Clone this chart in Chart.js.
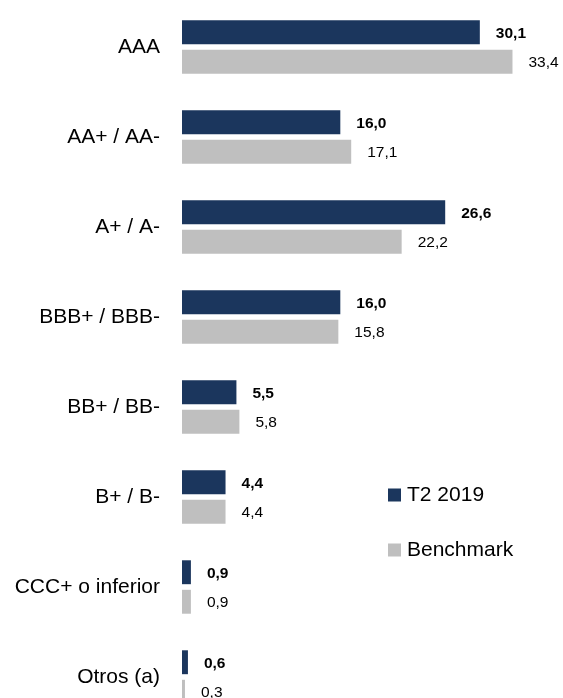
<!DOCTYPE html>
<html><head><meta charset="utf-8">
<script src="https://cdn.jsdelivr.net/npm/chart.js@4"></script>
<style>html,body{margin:0;padding:0;background:#fff;overflow:hidden}#wrap{width:563px;height:722px;position:relative}</style>
</head><body><div id="wrap"><canvas id="c"></canvas></div>
<script>
const categories = ['AAA', 'AA+ / AA-', 'A+ / A-', 'BBB+ / BBB-', 'BB+ / BB-', 'B+ / B-', 'CCC+ o inferior', 'Otros (a)'];
const t2_2019 = [30.1, 16.0, 26.6, 16.0, 5.5, 4.4, 0.9, 0.6];
const benchmark = [33.4, 17.1, 22.2, 15.8, 5.8, 4.4, 0.9, 0.3];
const seriesNames = ['T2 2019', 'Benchmark'];
const seriesColors = ['#1B365D', '#BFBFBF'];

const FONT = "'Liberation Sans', Arial, sans-serif";

const valueLabels = {
  id: 'valueLabels',
  afterDatasetsDraw(chart) {
    const ctx = chart.ctx;
    ctx.save();
    ctx.textBaseline = 'middle';
    ctx.textAlign = 'left';
    ctx.fillStyle = '#000';
    chart.data.datasets.forEach((ds, i) => {
      ctx.font = (i === 0 ? 'bold ' : '') + '15.5px ' + FONT;
      chart.getDatasetMeta(i).data.forEach((bar, j) => {
        const txt = ds.data[j].toFixed(1).replace('.', ',');
        ctx.fillText(txt, bar.x + 16, bar.y + 1);
      });
    });
    ctx.restore();
  }
};

const customLegend = {
  id: 'customLegend',
  afterDraw(chart) {
    const ctx = chart.ctx;
    ctx.save();
    ctx.font = '21px ' + FONT;
    ctx.textBaseline = 'middle';
    ctx.textAlign = 'left';
    chart.data.datasets.forEach((ds, i) => {
      const y = 495 + i * 55;
      ctx.fillStyle = ds.backgroundColor;
      ctx.fillRect(388, y - 6.5, 13, 13);
      ctx.fillStyle = '#000';
      ctx.fillText(ds.label, 407, y);
    });
    ctx.restore();
  }
};

new Chart(document.getElementById('c'), {
  type: 'bar',
  data: {
    labels: categories,
    datasets: [
      { label: seriesNames[0], data: t2_2019, backgroundColor: seriesColors[0], barPercentage: 0.81, categoryPercentage: 0.656 },
      { label: seriesNames[1], data: benchmark, backgroundColor: seriesColors[1], barPercentage: 0.81, categoryPercentage: 0.656 }
    ]
  },
  options: {
    indexAxis: 'y',
    responsive: true,
    maintainAspectRatio: false,
    animation: false,
    layout: { padding: { top: 2, bottom: 0, left: 0, right: 5 } },
    plugins: { legend: { display: false }, tooltip: { enabled: false } },
    scales: {
      x: { display: false, min: 0, max: 38 },
      y: {
        grid: { display: false, drawTicks: false },
        border: { display: false },
        ticks: { color: '#000', padding: 22, font: { family: FONT, size: 21 } },
        afterFit(scale) { scale.width = 182; scale.paddingTop = 0; scale.paddingBottom = 0; }
      }
    }
  },
  plugins: [valueLabels, customLegend]
});
</script>
</body></html>
